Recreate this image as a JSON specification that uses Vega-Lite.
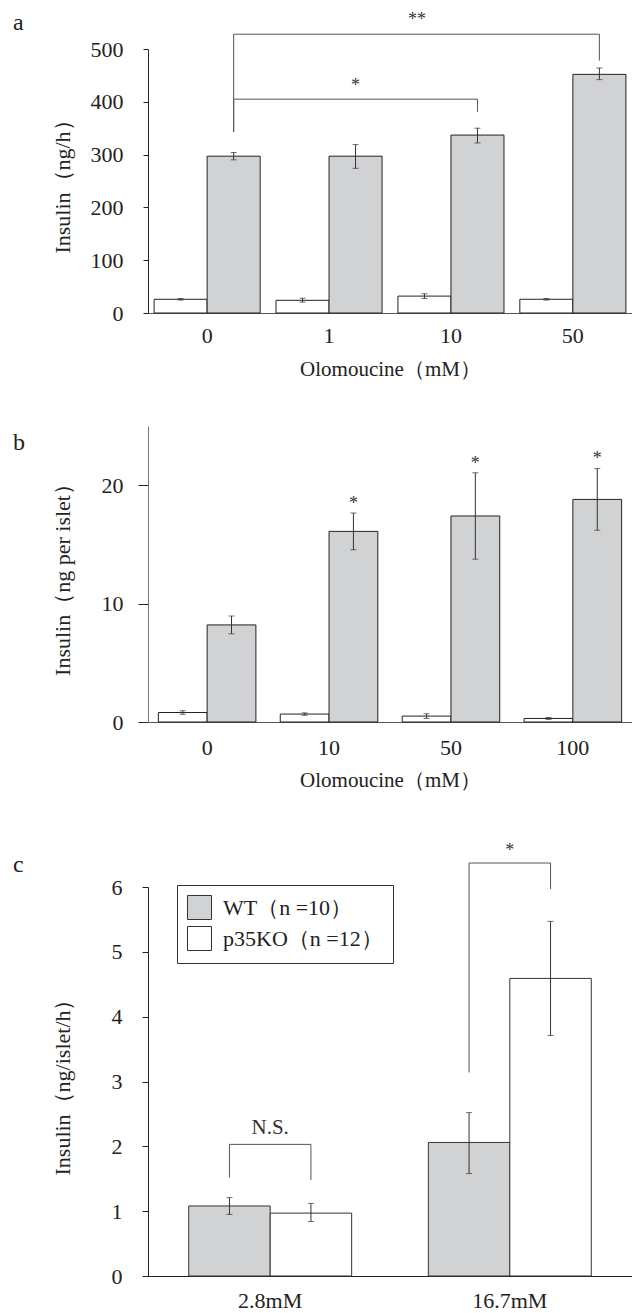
{
  "$schema": "https://vega.github.io/schema/vega-lite/v6.json",
  "background": "white",
  "padding": {"left": 13, "top": 10, "right": 0, "bottom": 0},
  "config": {
    "font": "Liberation Serif",
    "view": {"stroke": null},
    "axis": {
      "grid": false,
      "labelFont": "Liberation Serif",
      "labelFontSize": 22,
      "labelColor": "#222",
      "titleFont": "Liberation Serif",
      "titleFontSize": 22,
      "titleFontWeight": "normal",
      "titleColor": "#222",
      "domainColor": "#222",
      "tickColor": "#222"
    },
    "title": {
      "font": "Liberation Serif",
      "fontSize": 24,
      "fontWeight": "normal",
      "color": "#222",
      "anchor": "start",
      "frame": "group",
      "baseline": "middle",
      "offset": 0
    },
    "text": {"font": "Liberation Serif", "color": "#333"}
  },
  "resolve": {"scale": {"fill": "independent", "xOffset": "independent"}, "legend": {"fill": "independent"}},
  "spacing": 51,
  "vconcat": [
    {
      "spacing": 47,
      "resolve": {"scale": {"fill": "independent", "xOffset": "independent"}},
      "vconcat": [
        {
          "title": {"text": "a", "dx": -135, "dy": 28},
          "width": 484,
          "height": 264,
          "data": {"values": [
            {"g": "0", "s": "low", "v": 26, "lo": 24.5, "hi": 27.5},
            {"g": "0", "s": "high", "v": 297, "lo": 290, "hi": 304},
            {"g": "1", "s": "low", "v": 24, "lo": 20.5, "hi": 28},
            {"g": "1", "s": "high", "v": 297, "lo": 274, "hi": 319},
            {"g": "10", "s": "low", "v": 32, "lo": 27.5, "hi": 36.5},
            {"g": "10", "s": "high", "v": 337, "lo": 322, "hi": 350},
            {"g": "50", "s": "low", "v": 26, "lo": 24.5, "hi": 27.5},
            {"g": "50", "s": "high", "v": 452, "lo": 442, "hi": 464}
          ]},
          "layer": [
            {
              "mark": {"type": "bar", "stroke": "#222", "strokeWidth": 1},
              "encoding": {
                "x": {"field": "g", "type": "nominal", "title": "Olomoucine（mM）",
                  "scale": {"domain": ["0", "1", "10", "50"], "paddingInner": 0.13, "paddingOuter": 0.05},
                  "axis": {"labelAngle": 0, "ticks": false, "domainColor": "#555", "labelPadding": 12, "titlePadding": 12, "titleFontSize": 21}},
                "xOffset": {"field": "s", "type": "nominal", "scale": {"domain": ["low", "high"]}},
                "y": {"field": "v", "type": "quantitative", "title": "Insulin（ng/h）",
                  "scale": {"domain": [0, 500], "nice": false},
                  "axis": {"values": [0, 100, 200, 300, 400, 500], "format": "d", "tickSize": 5, "labelPadding": 20, "titleX": -86, "titleBaseline": "middle"}},
                "fill": {"field": "s", "type": "nominal", "scale": {"domain": ["low", "high"], "range": ["#ffffff", "#d1d2d4"]}, "legend": null}
              }
            },
            {
              "mark": {"type": "rule", "color": "#333", "strokeWidth": 1},
              "encoding": {
                "x": {"field": "g", "type": "nominal", "title": "Olomoucine（mM）"},
                "xOffset": {"field": "s", "type": "nominal"},
                "y": {"field": "lo", "type": "quantitative", "title": "Insulin（ng/h）"},
                "y2": {"field": "hi"}
              }
            },
            {
              "mark": {"type": "tick", "color": "#333", "size": 6, "thickness": 1},
              "encoding": {
                "x": {"field": "g", "type": "nominal", "title": "Olomoucine（mM）"},
                "xOffset": {"field": "s", "type": "nominal"},
                "y": {"field": "lo", "type": "quantitative", "title": "Insulin（ng/h）"}
              }
            },
            {
              "mark": {"type": "tick", "color": "#333", "size": 6, "thickness": 1},
              "encoding": {
                "x": {"field": "g", "type": "nominal", "title": "Olomoucine（mM）"},
                "xOffset": {"field": "s", "type": "nominal"},
                "y": {"field": "hi", "type": "quantitative", "title": "Insulin（ng/h）"}
              }
            },
            {
              "data": {"values": [
                {"id": "b1", "o": 1, "g": "0", "s": "high", "y": 343},
                {"id": "b1", "o": 2, "g": "0", "s": "high", "y": 405},
                {"id": "b1", "o": 3, "g": "10", "s": "high", "y": 405},
                {"id": "b1", "o": 4, "g": "10", "s": "high", "y": 381},
                {"id": "b2", "o": 1, "g": "0", "s": "high", "y": 343},
                {"id": "b2", "o": 2, "g": "0", "s": "high", "y": 528},
                {"id": "b2", "o": 3, "g": "50", "s": "high", "y": 528},
                {"id": "b2", "o": 4, "g": "50", "s": "high", "y": 478}
              ]},
              "mark": {"type": "line", "color": "#555", "strokeWidth": 1},
              "encoding": {
                "x": {"field": "g", "type": "nominal", "title": "Olomoucine（mM）"},
                "xOffset": {"field": "s", "type": "nominal"},
                "y": {"field": "y", "type": "quantitative", "title": "Insulin（ng/h）"},
                "detail": {"field": "id"},
                "order": {"field": "o", "type": "quantitative"}
              }
            },
            {
              "data": {"values": [{"g": "1", "y": 435, "t": "*"}]},
              "mark": {"type": "text", "fontSize": 18, "baseline": "middle", "align": "center", "dy": 3},
              "encoding": {
                "x": {"field": "g", "type": "nominal", "bandPosition": 0.75, "title": "Olomoucine（mM）"},
                "y": {"field": "y", "type": "quantitative", "title": "Insulin（ng/h）"},
                "text": {"field": "t"}
              }
            },
            {
              "data": {"values": [{"g": "10", "y": 561, "t": "**"}]},
              "mark": {"type": "text", "fontSize": 18, "baseline": "middle", "align": "center", "dy": 3},
              "encoding": {
                "x": {"field": "g", "type": "nominal", "bandPosition": 0.18, "title": "Olomoucine（mM）"},
                "y": {"field": "y", "type": "quantitative", "title": "Insulin（ng/h）"},
                "text": {"field": "t"}
              }
            }
          ]
        },
        {
          "title": {"text": "b", "dx": -135, "dy": 33},
          "width": 484,
          "height": 296,
          "data": {"values": [
            {"g": "0", "s": "low", "v": 0.8, "lo": 0.65, "hi": 0.95},
            {"g": "0", "s": "high", "v": 8.2, "lo": 7.45, "hi": 8.95},
            {"g": "10", "s": "low", "v": 0.67, "lo": 0.57, "hi": 0.77},
            {"g": "10", "s": "high", "v": 16.1, "lo": 14.55, "hi": 17.65},
            {"g": "50", "s": "low", "v": 0.5, "lo": 0.3, "hi": 0.7},
            {"g": "50", "s": "high", "v": 17.4, "lo": 13.75, "hi": 21.05},
            {"g": "100", "s": "low", "v": 0.3, "lo": 0.22, "hi": 0.38},
            {"g": "100", "s": "high", "v": 18.8, "lo": 16.2, "hi": 21.4}
          ]},
          "layer": [
            {
              "mark": {"type": "bar", "stroke": "#222", "strokeWidth": 1},
              "encoding": {
                "x": {"field": "g", "type": "nominal", "title": "Olomoucine（mM）",
                  "scale": {"domain": ["0", "10", "50", "100"], "paddingInner": 0.2, "paddingOuter": 0.085},
                  "axis": {"labelAngle": 0, "ticks": false, "domainColor": "#555", "labelPadding": 15, "titlePadding": 11.5, "titleFontSize": 21}},
                "xOffset": {"field": "s", "type": "nominal", "scale": {"domain": ["low", "high"]}},
                "y": {"field": "v", "type": "quantitative", "title": "Insulin（ng per islet）",
                  "scale": {"domain": [0, 25], "nice": false},
                  "axis": {"values": [0, 10, 20], "format": "d", "tickSize": 10, "labelPadding": 15, "domainColor": "#777", "titleX": -86, "titleBaseline": "middle"}},
                "fill": {"field": "s", "type": "nominal", "scale": {"domain": ["low", "high"], "range": ["#ffffff", "#d1d2d4"]}, "legend": null}
              }
            },
            {
              "mark": {"type": "rule", "color": "#333", "strokeWidth": 1},
              "encoding": {
                "x": {"field": "g", "type": "nominal", "title": "Olomoucine（mM）"},
                "xOffset": {"field": "s", "type": "nominal"},
                "y": {"field": "lo", "type": "quantitative", "title": "Insulin（ng per islet）"},
                "y2": {"field": "hi"}
              }
            },
            {
              "mark": {"type": "tick", "color": "#333", "size": 6, "thickness": 1},
              "encoding": {
                "x": {"field": "g", "type": "nominal", "title": "Olomoucine（mM）"},
                "xOffset": {"field": "s", "type": "nominal"},
                "y": {"field": "lo", "type": "quantitative", "title": "Insulin（ng per islet）"}
              }
            },
            {
              "mark": {"type": "tick", "color": "#333", "size": 6, "thickness": 1},
              "encoding": {
                "x": {"field": "g", "type": "nominal", "title": "Olomoucine（mM）"},
                "xOffset": {"field": "s", "type": "nominal"},
                "y": {"field": "hi", "type": "quantitative", "title": "Insulin（ng per islet）"}
              }
            },
            {
              "data": {"values": [
                {"g": "10", "s": "high", "y": 18.7, "t": "*"},
                {"g": "50", "s": "high", "y": 22.05, "t": "*"},
                {"g": "100", "s": "high", "y": 22.45, "t": "*"}
              ]},
              "mark": {"type": "text", "fontSize": 18, "baseline": "middle", "align": "center", "dy": 3},
              "encoding": {
                "x": {"field": "g", "type": "nominal", "title": "Olomoucine（mM）"},
                "xOffset": {"field": "s", "type": "nominal"},
                "y": {"field": "y", "type": "quantitative", "title": "Insulin（ng per islet）"},
                "text": {"field": "t"}
              }
            }
          ]
        }
      ]
    },
    {
      "title": {"text": "c", "dx": -135, "dy": 38.4},
      "width": 484,
      "height": 389,
      "data": {"values": [
        {"g": "2.8mM", "s": "WT（n =10）", "v": 1.08, "lo": 0.95, "hi": 1.21},
        {"g": "2.8mM", "s": "p35KO（n =12）", "v": 0.97, "lo": 0.84, "hi": 1.12},
        {"g": "16.7mM", "s": "WT（n =10）", "v": 2.06, "lo": 1.58, "hi": 2.52},
        {"g": "16.7mM", "s": "p35KO（n =12）", "v": 4.59, "lo": 3.71, "hi": 5.47}
      ]},
      "layer": [
        {
          "mark": {"type": "bar", "stroke": "#333", "strokeWidth": 1},
          "encoding": {
            "x": {"field": "g", "type": "nominal", "title": null,
              "scale": {"domain": ["2.8mM", "16.7mM"], "paddingInner": 0.32, "paddingOuter": 0.17},
              "axis": {"labelAngle": 0, "ticks": false, "domainColor": "#222", "labelPadding": 14}},
            "xOffset": {"field": "s", "type": "nominal", "scale": {"domain": ["WT（n =10）", "p35KO（n =12）"]}},
            "y": {"field": "v", "type": "quantitative", "title": "Insulin（ng/islet/h）",
              "scale": {"domain": [0, 6], "nice": false},
              "axis": {"values": [0, 1, 2, 3, 4, 5, 6], "format": "d", "tickSize": 6, "labelPadding": 20, "titleX": -86, "titleBaseline": "middle"}},
            "fill": {"field": "s", "type": "nominal",
              "scale": {"domain": ["WT（n =10）", "p35KO（n =12）"], "range": ["#d1d2d4", "#ffffff"]},
              "legend": {"title": null, "orient": "none", "legendX": 29, "legendY": -2, "symbolType": "square", "symbolSize": 576,
                "symbolStrokeColor": "#333", "symbolStrokeWidth": 1, "labelFont": "Liberation Serif", "labelFontSize": 22,
                "labelColor": "#222", "strokeColor": "#333", "fillColor": "white", "padding": 10, "rowPadding": 2, "labelOffset": 11}}
          }
        },
        {
          "mark": {"type": "rule", "color": "#333", "strokeWidth": 1},
          "encoding": {
            "x": {"field": "g", "type": "nominal", "title": null},
            "xOffset": {"field": "s", "type": "nominal"},
            "y": {"field": "lo", "type": "quantitative", "title": "Insulin（ng/islet/h）"},
            "y2": {"field": "hi"}
          }
        },
        {
          "mark": {"type": "tick", "color": "#333", "size": 6, "thickness": 1},
          "encoding": {
            "x": {"field": "g", "type": "nominal", "title": null},
            "xOffset": {"field": "s", "type": "nominal"},
            "y": {"field": "lo", "type": "quantitative", "title": "Insulin（ng/islet/h）"}
          }
        },
        {
          "mark": {"type": "tick", "color": "#333", "size": 6, "thickness": 1},
          "encoding": {
            "x": {"field": "g", "type": "nominal", "title": null},
            "xOffset": {"field": "s", "type": "nominal"},
            "y": {"field": "hi", "type": "quantitative", "title": "Insulin（ng/islet/h）"}
          }
        },
        {
          "data": {"values": [
            {"id": "ns", "o": 1, "g": "2.8mM", "s": "WT（n =10）", "y": 1.52},
            {"id": "ns", "o": 2, "g": "2.8mM", "s": "WT（n =10）", "y": 2.03},
            {"id": "ns", "o": 3, "g": "2.8mM", "s": "p35KO（n =12）", "y": 2.03},
            {"id": "ns", "o": 4, "g": "2.8mM", "s": "p35KO（n =12）", "y": 1.48},
            {"id": "st", "o": 1, "g": "16.7mM", "s": "WT（n =10）", "y": 3.14},
            {"id": "st", "o": 2, "g": "16.7mM", "s": "WT（n =10）", "y": 6.37},
            {"id": "st", "o": 3, "g": "16.7mM", "s": "p35KO（n =12）", "y": 6.37},
            {"id": "st", "o": 4, "g": "16.7mM", "s": "p35KO（n =12）", "y": 5.97}
          ]},
          "mark": {"type": "line", "color": "#555", "strokeWidth": 1},
          "encoding": {
            "x": {"field": "g", "type": "nominal", "title": null},
            "xOffset": {"field": "s", "type": "nominal"},
            "y": {"field": "y", "type": "quantitative", "title": "Insulin（ng/islet/h）"},
            "detail": {"field": "id"},
            "order": {"field": "o", "type": "quantitative"}
          }
        },
        {
          "data": {"values": [{"g": "2.8mM", "y": 2.28, "t": "N.S."}]},
          "mark": {"type": "text", "fontSize": 21, "baseline": "middle", "align": "center"},
          "encoding": {
            "x": {"field": "g", "type": "nominal", "title": null},
            "y": {"field": "y", "type": "quantitative", "title": "Insulin（ng/islet/h）"},
            "text": {"field": "t"}
          }
        },
        {
          "data": {"values": [{"g": "16.7mM", "y": 6.6, "t": "*"}]},
          "mark": {"type": "text", "fontSize": 18, "baseline": "middle", "align": "center", "dy": 3},
          "encoding": {
            "x": {"field": "g", "type": "nominal", "title": null},
            "y": {"field": "y", "type": "quantitative", "title": "Insulin（ng/islet/h）"},
            "text": {"field": "t"}
          }
        }
      ]
    }
  ]
}
